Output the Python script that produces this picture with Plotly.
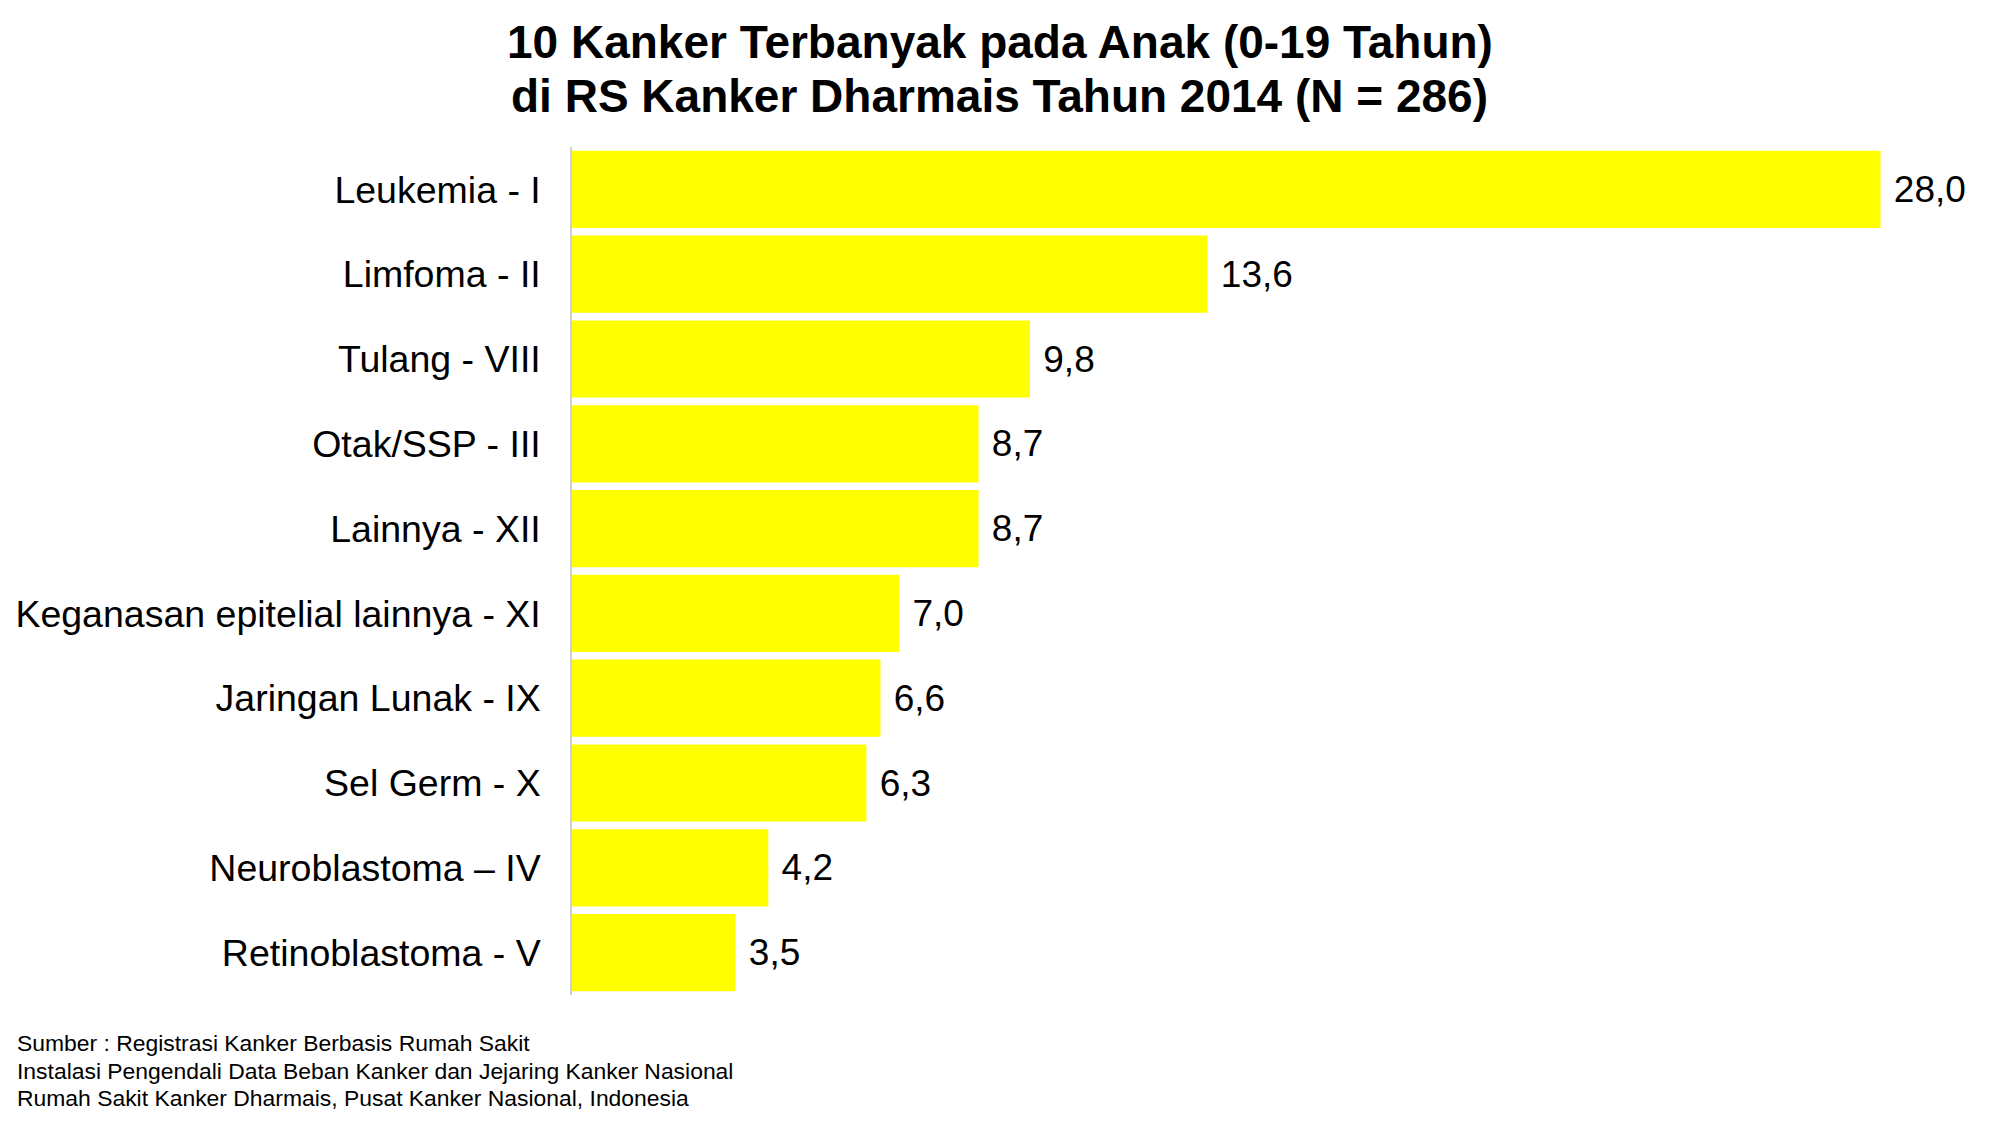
import plotly.graph_objects as go

categories = [
    "Leukemia - I",
    "Limfoma - II",
    "Tulang - VIII",
    "Otak/SSP - III",
    "Lainnya - XII",
    "Keganasan epitelial lainnya - XI",
    "Jaringan Lunak - IX",
    "Sel Germ - X",
    "Neuroblastoma \u2013 IV",
    "Retinoblastoma - V",
]
values = [28.0, 13.6, 9.8, 8.7, 8.7, 7.0, 6.6, 6.3, 4.2, 3.5]

title_lines = [
    "10 Kanker Terbanyak pada Anak (0-19 Tahun)",
    "di RS Kanker Dharmais Tahun 2014 (N = 286)",
]
source_lines = [
    "Sumber : Registrasi Kanker Berbasis Rumah Sakit",
    "Instalasi Pengendali Data Beban Kanker dan Jejaring Kanker Nasional",
    "Rumah Sakit Kanker Dharmais, Pusat Kanker Nasional, Indonesia",
]

FONT = "Liberation Sans, Arial, sans-serif"

W, H = 1999, 1126
ML, MR, MT, MB = 572, 24.5, 147, 131
plot_h = H - MT - MB
plot_w = W - ML - MR

def py(px):
    return (H - MB - px) / plot_h

def pxx(px):
    return (px - ML) / plot_w

fig = go.Figure(
    go.Bar(
        x=values,
        y=categories,
        orientation="h",
        marker=dict(color="#FFFF00", line=dict(width=0)),
        texttemplate="\u00a0%{x:.1f}",
        textposition="outside",
        textfont=dict(family=FONT, size=37, color="black"),
        constraintext="none",
        cliponaxis=False,
        hoverinfo="skip",
    )
)

annotations = []
for i, (line, ypx) in enumerate(zip(title_lines, [42, 96])):
    annotations.append(dict(
        text="<b>" + line + "</b>", xref="paper", yref="paper",
        x=pxx(1000), y=py(ypx), xanchor="center", yanchor="middle",
        showarrow=False, font=dict(family=FONT, size=46, color="black"),
    ))
for line, ypx in zip(source_lines, [1043, 1071, 1098]):
    annotations.append(dict(
        text=line, xref="paper", yref="paper",
        x=pxx(15), y=py(ypx), xanchor="left", yanchor="middle",
        showarrow=False, font=dict(family=FONT, size=22.9, color="black"),
    ))

fig.update_layout(
    width=W, height=H,
    margin=dict(l=ML, r=MR, t=MT, b=MB, pad=0),
    paper_bgcolor="white", plot_bgcolor="white",
    separators=", ",
    bargap=0.09,
    showlegend=False,
    annotations=annotations,
    xaxis=dict(range=[0, 30], visible=False, showgrid=False, zeroline=False),
    yaxis=dict(
        autorange="reversed",
        showgrid=False, zeroline=False,
        showline=True, linecolor="#d0d0d0", linewidth=1.5,
        ticks="", ticklabelstandoff=22,
        tickfont=dict(family=FONT, size=37.5, color="black"),
    ),
)

fig.write_html("out.html")
